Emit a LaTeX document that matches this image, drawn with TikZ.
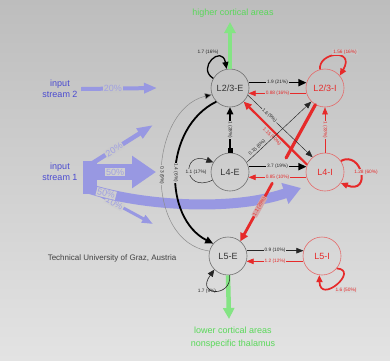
\documentclass[tikz,border=0pt]{standalone}
\usepackage{fontspec}
\setmainfont{Liberation Sans}
\usetikzlibrary{arrows.meta,calc}
\definecolor{bgtop}{HTML}{BDBDBD}
\definecolor{bgbot}{HTML}{E3E3E3}
\colorlet{bgA}{bgbot!24!bgtop}
\colorlet{bgAB}{bgbot!36!bgtop}
\colorlet{bgB}{bgbot!48!bgtop}
\colorlet{bgC}{bgbot!71!bgtop}
\definecolor{exc}{HTML}{707070}
\definecolor{inh}{HTML}{E62A2A}
\definecolor{inhc}{HTML}{E46A6A}
\definecolor{inp}{HTML}{9898E2}
\definecolor{inptxt}{HTML}{4A4AD0}
\definecolor{inplbl}{HTML}{A0A0E2}
\definecolor{grn}{HTML}{84E484}
\definecolor{grntxt}{HTML}{5AD85A}
\begin{document}
\begin{tikzpicture}[x=1pt,y=-1pt,
 excnode/.style={circle,draw=exc,line width=0.6pt,minimum size=38pt,inner sep=0pt,font=\fontsize{9}{10}\selectfont,text=black!80},
 inhnode/.style={circle,draw=inhc,line width=0.6pt,minimum size=38pt,inner sep=0pt,font=\fontsize{9}{10}\selectfont,text=inh},
 blkthick/.style={line width=1.6pt,draw=black,-{Triangle[length=8pt,width=7pt]}},
 blkthin/.style={line width=0.45pt,draw=black!85,-{Triangle[length=7pt,width=5.5pt]}},
 redthin/.style={line width=0.6pt,draw=inh,-{Triangle[length=7pt,width=5.5pt]}},
 redthick/.style={line width=2.2pt,draw=inh,-{Triangle[length=8pt,width=7pt]}},
 blkloop/.style={line width=1.3pt,draw=black,-{Triangle[length=7pt,width=6pt]}},
 redloop/.style={line width=1.7pt,draw=inh,-{Triangle[length=7pt,width=6pt]}},
 elbl/.style={font=\fontsize{4.8}{5}\selectfont,inner sep=0.8pt},
 blbl/.style={elbl,text=black!85},
 rlbl/.style={elbl,text=inh},
 inarrow/.style={draw=inp},
 inlbl/.style={font=\fontsize{9}{10}\selectfont,text=inplbl,inner sep=1pt},
 intxt/.style={font=\fontsize{9}{11}\selectfont,text=inptxt,align=center},
 grnarrow/.style={draw=grn,line width=4.5pt,-{Triangle[length=11pt,width=11pt]}},
 grnlbl/.style={font=\fontsize{9}{10}\selectfont,text=grntxt}
]
\useasboundingbox (0,0) rectangle (390,360);
\shade[top color=bgtop,bottom color=bgbot] (0,0) rectangle (390,360);

% nodes
\node[excnode] (L23E) at (230,88) {L2/3-E};
\node[inhnode] (L23I) at (325,88) {L2/3-I};
\node[excnode] (L4E) at (230,172) {L4-E};
\node[inhnode] (L4I) at (325,172) {L4-I};
\node[excnode] (L5E) at (228,256) {L5-E};
\node[inhnode] (L5I) at (322,256) {L5-I};

% green outputs
\coordinate (gtop) at (230,22);
\coordinate (gbot) at (229,319);
\draw[grnarrow] (L23E.north) -- (gtop);
\draw[grnarrow] (L5E.south) -- (gbot);
\node[grnlbl] (hca) at (233,13) {higher cortical areas};
\node[grnlbl] (lca) at (233,330) {lower cortical areas};
\node[grnlbl] (nst) at (233,344) {nonspecific thalamus};

% inputs
\node[intxt] (in2) at (60,89) {input\\stream 2};
\node[intxt] (in1) at (60,172) {input\\stream 1};
\node[font=\fontsize{8}{9}\selectfont,text=black!75] (tug) at (112,258) {Technical University of Graz, Austria};

\coordinate (i2e) at (157,88);
\draw[inarrow,line width=4pt,-{Triangle[length=13pt,width=10pt]}] (in2.east) -- (i2e)
  node[inlbl,fill=bgA,pos=0.42] {20\%};

\fill[inp] (83,161) rectangle (97,194);
\coordinate (i1a) at (88,166);
\coordinate (i1ae) at (153,125);
\coordinate (i1b) at (88,172);
\coordinate (i1be) at (156,172);
\coordinate (i1c) at (90,189);
\coordinate (i1ce) at (301,188);
\coordinate (i1d) at (92,191);
\coordinate (i1de) at (153,224);
\draw[inarrow,line width=4.5pt,-{Triangle[length=16pt,width=11pt]}] (i1a) -- (i1ae)
  node[inlbl,fill=bgAB,pos=0.4,sloped] {20\%};
\draw[inarrow,line width=16pt,-{Triangle[length=24pt,width=31pt]}] (i1b) -- (i1be)
  node[inlbl,fill=bgB,pos=0.4] {50\%};
\draw[inarrow,line width=3pt,-{Triangle[length=11pt,width=8pt]}] (i1d) -- (i1de)
  node[inlbl,fill=bgB,pos=0.37,sloped] {10\%};
\draw[inarrow,line width=10pt,-{Triangle[length=17pt,width=21pt]}] (i1c) .. controls (140,205) and (230,212) .. (i1ce)
  node[inlbl,fill=bgB,pos=0.1,sloped] {50\%};

% left arcs
\draw[line width=0.5pt,draw=black!45,-{Triangle[length=7pt,width=6pt,fill=black]}] (L5E.165) .. controls (143,242) and (148,110) .. (L23E.200)
  node[blbl,fill=bgB,pos=0.5,rotate=-90] {0.3 (9\%)};
\draw[line width=1.8pt,draw=black,-{Triangle[length=8pt,width=7pt]}] (L23E.225) .. controls (163,128) and (163,218) .. (L5E.140)
  node[blbl,fill=bgB,pos=0.5,rotate=-90] {1.4 (6\%)};

% red L2/3-I -> L5-E (broken line)
\coordinate (rA) at ($(L23I.240)!0.39!(L5E.50)$);
\coordinate (rB) at ($(L23I.240)!0.575!(L5E.50)$);
\draw[line width=3.2pt,draw=inh,line cap=round] (L23I.240) -- (rA);
\draw[line width=2.8pt,draw=inh,line cap=round,-{Triangle[length=8pt,width=8pt]}] (rB) -- (L5E.50)
  node[rlbl,fill=inh!25!bgB,pos=0.4,sloped] {1.1 (25\%)};

% horizontal connections
\draw[blkthick] (L23E.16) -- (L23I.164) node[blbl,fill=bgA,midway] {1.9 (21\%)};
\draw[redthin] (L23I.196) -- (L23E.-16) node[rlbl,fill=bgA,midway] {0.88 (16\%)};
\draw[blkthick] (L4E.16) -- (L4I.164) node[blbl,fill=bgB,midway] {3.7 (19\%)};
\draw[redthin] (L4I.196) -- (L4E.-16) node[rlbl,fill=bgB,midway] {0.85 (10\%)};
\draw[blkthin] (L5E.16) -- (L5I.164) node[blbl,fill=bgC,midway] {0.9 (10\%)};
\draw[redthin] (L5I.196) -- (L5E.-16) node[rlbl,fill=bgC,midway] {1.2 (12\%)};

% vertical connections
\draw[line width=1.2pt,draw=black,{Square[length=4.5pt,width=5pt]}-{Triangle[length=7pt,width=6.5pt]}] (L4E.north) -- (L23E.south)
  node[blbl,fill=bgAB,midway,rotate=-90] {1 (28\%)};
\draw[redthin] (L4I.north) -- (L23I.south)
  node[rlbl,fill=bgAB,midway,rotate=-90] {1 (33\%)};

% diagonals
\draw[blkthin] (L23E.-22) -- (L4I.130) node[blbl,fill=bgAB,pos=0.33,sloped] {1.6 (9\%)};
\draw[redthick] (L4I.158) -- (L23E.-45) node[rlbl,pos=0.5,sloped,below=0.8pt] {1.15 (60\%)};
\draw[blkthin] (L4E.30) -- (L23I.225) node[blbl,pos=0.2,sloped,above=0.3pt] {0.15 (6\%)};

% self loops
\draw[blkloop] (L23E.150) .. controls (196,68) and (222,44) .. (L23E.100);
\node[blbl] (s1) at (208,52) {1.7 (16\%)};
\draw[redloop] (L23I.105) .. controls (318,52) and (356,48) .. (L23I.40);
\node[rlbl,fill=bgA] (s2) at (345,52) {1.56 (16\%)};
\draw[line width=0.5pt,draw=black!85,-{Triangle[length=7pt,width=6pt]}] (L4E.205) .. controls (183,194) and (181,150) .. (L4E.150);
\node[blbl,fill=bgB] (s3) at (196,172) {1.1 (17\%)};
\draw[redloop,line width=2pt] (L4I.35) .. controls (362,150) and (372,195) .. (L4I.-35);
\node[rlbl,fill=bgB] (s4) at (366,172) {1.28 (60\%)};
\draw[line width=0.6pt,draw=black!85,-{Triangle[length=7pt,width=6pt]}] (L5E.275) .. controls (232,298) and (195,296) .. (L5E.225);
\node[blbl] (s5) at (207,291) {1.7 (9\%)};
\draw[redloop] (L5I.-40) .. controls (360,270) and (320,305) .. (L5I.262);
\node[rlbl,fill=bgC] (s6) at (346,290) {1.6 (50\%)};
\end{tikzpicture}
\end{document}
